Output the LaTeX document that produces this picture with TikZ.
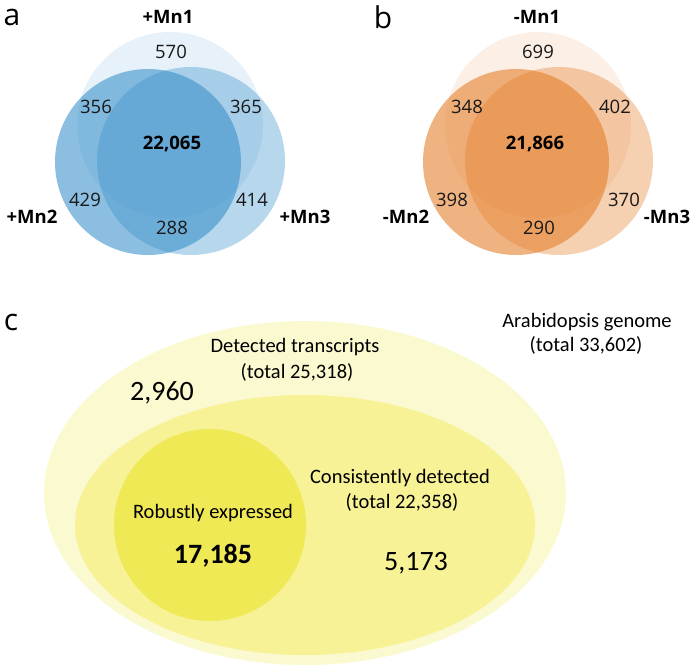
\documentclass[tikz,border=0pt]{standalone}
\usepackage{fontspec}
\setmainfont{Carlito}
\newfontfamily\vennfont{Open Sans}
\definecolor{vblue}{RGB}{55,143,202}
\definecolor{vorange}{RGB}{228,124,39}
\definecolor{youter}{RGB}{251,249,208}
\definecolor{ymid}{RGB}{247,242,150}
\definecolor{yinner}{RGB}{240,233,86}
\tikzset{
  vtxt/.style={font=\vennfont\fontsize{18.5}{20}\selectfont, text=black!90, inner sep=0pt},
  vbold/.style={font=\vennfont\bfseries\fontsize{18.5}{20}\selectfont, text=black, inner sep=0pt},
  paneltag/.style={font=\vennfont\fontsize{30}{32}\selectfont, inner sep=0pt},
  ctxt/.style={font=\fontsize{20.5}{22}\selectfont, text=black, inner sep=0pt},
  cbig/.style={font=\fontsize{28}{30}\selectfont, text=black, inner sep=0pt},
  cbigb/.style={font=\bfseries\fontsize{28}{30}\selectfont, text=black, inner sep=0pt},
}
\begin{document}
\begin{tikzpicture}[x=1pt,y=-1pt]
\useasboundingbox (0,0) rectangle (697,668);
% ---------- panel a ----------
\fill[vblue, fill opacity=0.12] (170,125) circle (93);
\fill[vblue, fill opacity=0.36] (191,161) circle (94);
\fill[vblue, fill opacity=0.58] (148,162) circle (93);
\node[paneltag] (taga) at (12,17) {a};
\node[vbold] (a1) at (168,17) {+Mn1};
\node[vbold] (a2) at (32,217) {+Mn2};
\node[vbold] (a3) at (305,217) {+Mn3};
\node[vtxt] (a570) at (171,52) {570};
\node[vtxt] (a356) at (96,107) {356};
\node[vtxt] (a365) at (246,107) {365};
\node[vbold] (a22065) at (172,144) {22,065};
\node[vtxt] (a429) at (85,200) {429};
\node[vtxt] (a414) at (252,200) {414};
\node[vtxt] (a288) at (172,228) {288};
% ---------- panel b ----------
\fill[vorange, fill opacity=0.12] (538,125) circle (93);
\fill[vorange, fill opacity=0.36] (559,161) circle (94);
\fill[vorange, fill opacity=0.58] (516,162) circle (93);
\node[paneltag] (tagb) at (383,17) {b};
\node[vbold] (b1) at (537,17) {-Mn1};
\node[vbold] (b2) at (406,217) {-Mn2};
\node[vbold] (b3) at (667,217) {-Mn3};
\node[vtxt] (b699) at (538,52) {699};
\node[vtxt] (b348) at (467,107) {348};
\node[vtxt] (b402) at (615,107) {402};
\node[vbold] (b21866) at (535,144) {21,866};
\node[vtxt] (b398) at (452,200) {398};
\node[vtxt] (b370) at (624,200) {370};
\node[vtxt] (b290) at (539,228) {290};
% ---------- panel c ----------
\fill[youter] (305,493) ellipse [x radius=261, y radius=172];
\fill[ymid] (305,525) ellipse [x radius=230, y radius=130];
\fill[yinner] (210,525) circle (96);
\node[paneltag] (tagc) at (11,322) {c};
\node[ctxt] (arab1) at (587,322) {Arabidopsis genome};
\node[ctxt] (arab2) at (586,345) {(total 33,602)};
\node[ctxt] (det1) at (295,347) {Detected transcripts};
\node[ctxt] (det2) at (297,372) {(total 25,318)};
\node[cbig] (n2960) at (162,393) {2,960};
\node[ctxt] (con1) at (400,478) {Consistently detected};
\node[ctxt] (con2) at (402,502) {(total 22,358)};
\node[cbig] (n5173) at (416,563) {5,173};
\node[ctxt] (rob) at (213,513) {Robustly expressed};
\node[cbigb] (n17185) at (213,556) {17,185};
\end{tikzpicture}
\end{document}
